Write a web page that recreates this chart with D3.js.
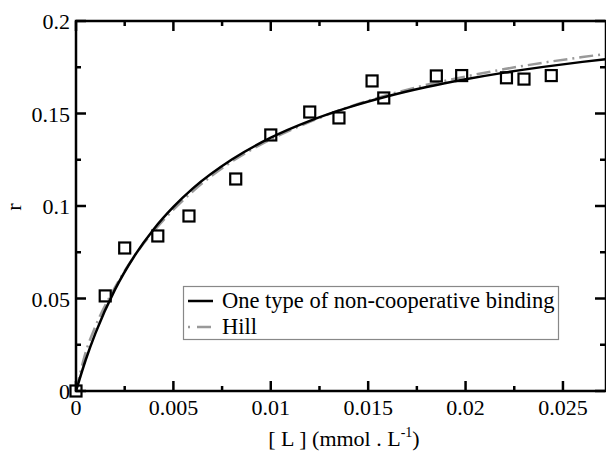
<!DOCTYPE html>
<html><head><meta charset="utf-8">
<script src="https://cdn.jsdelivr.net/npm/d3@7"></script>
<style>body{margin:0;background:#fff}svg{display:block}text{font-family:"Liberation Serif","Times New Roman",serif}</style>
</head><body><svg id="c" width="606" height="455"></svg>
<script>
// measured data (squares)
const obsL = [0, 0.0015, 0.0025, 0.0042, 0.0058, 0.0082, 0.0100, 0.0120, 0.0135, 0.0152, 0.0158, 0.0185, 0.0198, 0.0221, 0.0230, 0.0244];
const obsR = [0, 0.0514, 0.0773, 0.0838, 0.0946, 0.1146, 0.1384, 0.1508, 0.1476, 0.1676, 0.1584, 0.1703, 0.1705, 0.1693, 0.1686, 0.1705];
// fitted curves
const curveL = [0, 0.0005, 0.001, 0.002, 0.003, 0.004, 0.005, 0.006, 0.008, 0.010, 0.012, 0.014, 0.016, 0.018, 0.020, 0.022, 0.024, 0.026, 0.0272];
const oneTypeR = [0, 0.0169, 0.0313, 0.0548, 0.0730, 0.0876, 0.0995, 0.1095, 0.1251, 0.1369, 0.1460, 0.1533, 0.1593, 0.1643, 0.1685, 0.1721, 0.1752, 0.1779, 0.1794];
const hillR = [0, 0.0210, 0.0350, 0.0560, 0.0730, 0.0865, 0.0980, 0.1080, 0.1240, 0.1360, 0.1455, 0.1535, 0.1600, 0.1655, 0.1700, 0.1740, 0.1775, 0.1805, 0.1822];
const xTicks = [0, 0.005, 0.01, 0.015, 0.02, 0.025];
const xTickLabels = ["0", "0.005", "0.01", "0.015", "0.02", "0.025"];
const yTicks = [0, 0.05, 0.1, 0.15, 0.2];
const yTickLabels = ["0", "0.05", "0.1", "0.15", "0.2"];
const legendLabels = ["One type of non-cooperative binding", "Hill"];

const svg = d3.select("#c");
const L = 76, T = 21, R = 606, B = 391;
const x = d3.scaleLinear().domain([0, 0.02721]).range([L, R]);
const y = d3.scaleLinear().domain([0, 0.2]).range([B, T]);

const xMinor = d3.range(0.0025, 0.027, 0.005);
const yMinor = d3.range(0.025, 0.2, 0.05);

const g = svg.append("g");
function vt(xv, len){ 
  g.append("line").attr("x1",x(xv)).attr("x2",x(xv)).attr("y1",B).attr("y2",B-len).attr("stroke","#000").attr("stroke-width",2.5);
  g.append("line").attr("x1",x(xv)).attr("x2",x(xv)).attr("y1",T).attr("y2",T+len).attr("stroke","#000").attr("stroke-width",2.5);
}
function ht(yv, len){
  g.append("line").attr("y1",y(yv)).attr("y2",y(yv)).attr("x1",L).attr("x2",L+len).attr("stroke","#000").attr("stroke-width",2.5);
  g.append("line").attr("y1",y(yv)).attr("y2",y(yv)).attr("x1",R-1).attr("x2",R-1-len).attr("stroke","#000").attr("stroke-width",2.5);
}
xTicks.forEach(v=>vt(v,10)); xMinor.forEach(v=>vt(v,5));
yTicks.forEach(v=>ht(v,10)); yMinor.forEach(v=>ht(v,5));

// curves
const line = d3.line().x(d=>x(d[0])).y(d=>y(d[1])).curve(d3.curveMonotoneX);
g.append("path").datum(curveL.map((l,i)=>[l,hillR[i]])).attr("d",line)
  .attr("fill","none").attr("stroke","#999").attr("stroke-width",2.5).attr("stroke-dasharray","14,5,2,5");
g.append("path").datum(curveL.map((l,i)=>[l,oneTypeR[i]])).attr("d",line)
  .attr("fill","none").attr("stroke","#000").attr("stroke-width",2.5);

// squares
const s = 11;
g.selectAll("rect.pt").data(obsL.map((l,i)=>[l,obsR[i]])).join("rect").attr("class","pt")
  .attr("x",d=>x(d[0])-s/2).attr("y",d=>y(d[1])-s/2).attr("width",s).attr("height",s)
  .attr("fill","none").attr("stroke","#000").attr("stroke-width",2.2);

// frame
g.append("rect").attr("x",L).attr("y",T).attr("width",R-L).attr("height",B-T)
  .attr("fill","none").attr("stroke","#000").attr("stroke-width",2.5);

// tick labels
g.selectAll("text.xl").data(xTicks).join("text").attr("class","xl")
  .attr("x",d=>x(d)).attr("y",415).attr("text-anchor","middle").attr("font-size",22)
  .text((d,i)=>xTickLabels[i]);
g.selectAll("text.yl").data(yTicks).join("text").attr("class","yl")
  .attr("x",70).attr("y",d=>y(d)+8).attr("text-anchor","end").attr("font-size",22)
  .text((d,i)=>yTickLabels[i]);

// axis titles
const xt = svg.append("text").attr("x",344).attr("y",446).attr("text-anchor","middle").attr("font-size",22);
xt.append("tspan").text("[ L ] (mmol . L");
xt.append("tspan").attr("dy",-9).attr("font-size",14).text("-1");
xt.append("tspan").attr("dy",9).text(")");
svg.append("text").attr("transform","translate(21,207) rotate(-90)").attr("text-anchor","middle").attr("font-size",22).text("r");

// legend
const lg = svg.append("g");
lg.append("rect").attr("x",183.5).attr("y",286.5).attr("width",375).attr("height",53)
  .attr("fill","#fff").attr("stroke","#888").attr("stroke-width",1.2);
lg.append("line").attr("x1",188).attr("x2",213).attr("y1",301).attr("y2",301).attr("stroke","#000").attr("stroke-width",2.5);
lg.append("line").attr("x1",188).attr("x2",213).attr("y1",327).attr("y2",327).attr("stroke","#999").attr("stroke-width",2.5).attr("stroke-dasharray","2,7,14,5");
lg.append("text").attr("x",222).attr("y",308).attr("font-size",22.5).text(legendLabels[0]);
lg.append("text").attr("x",222).attr("y",334).attr("font-size",22.5).text(legendLabels[1]);
</script></body></html>
